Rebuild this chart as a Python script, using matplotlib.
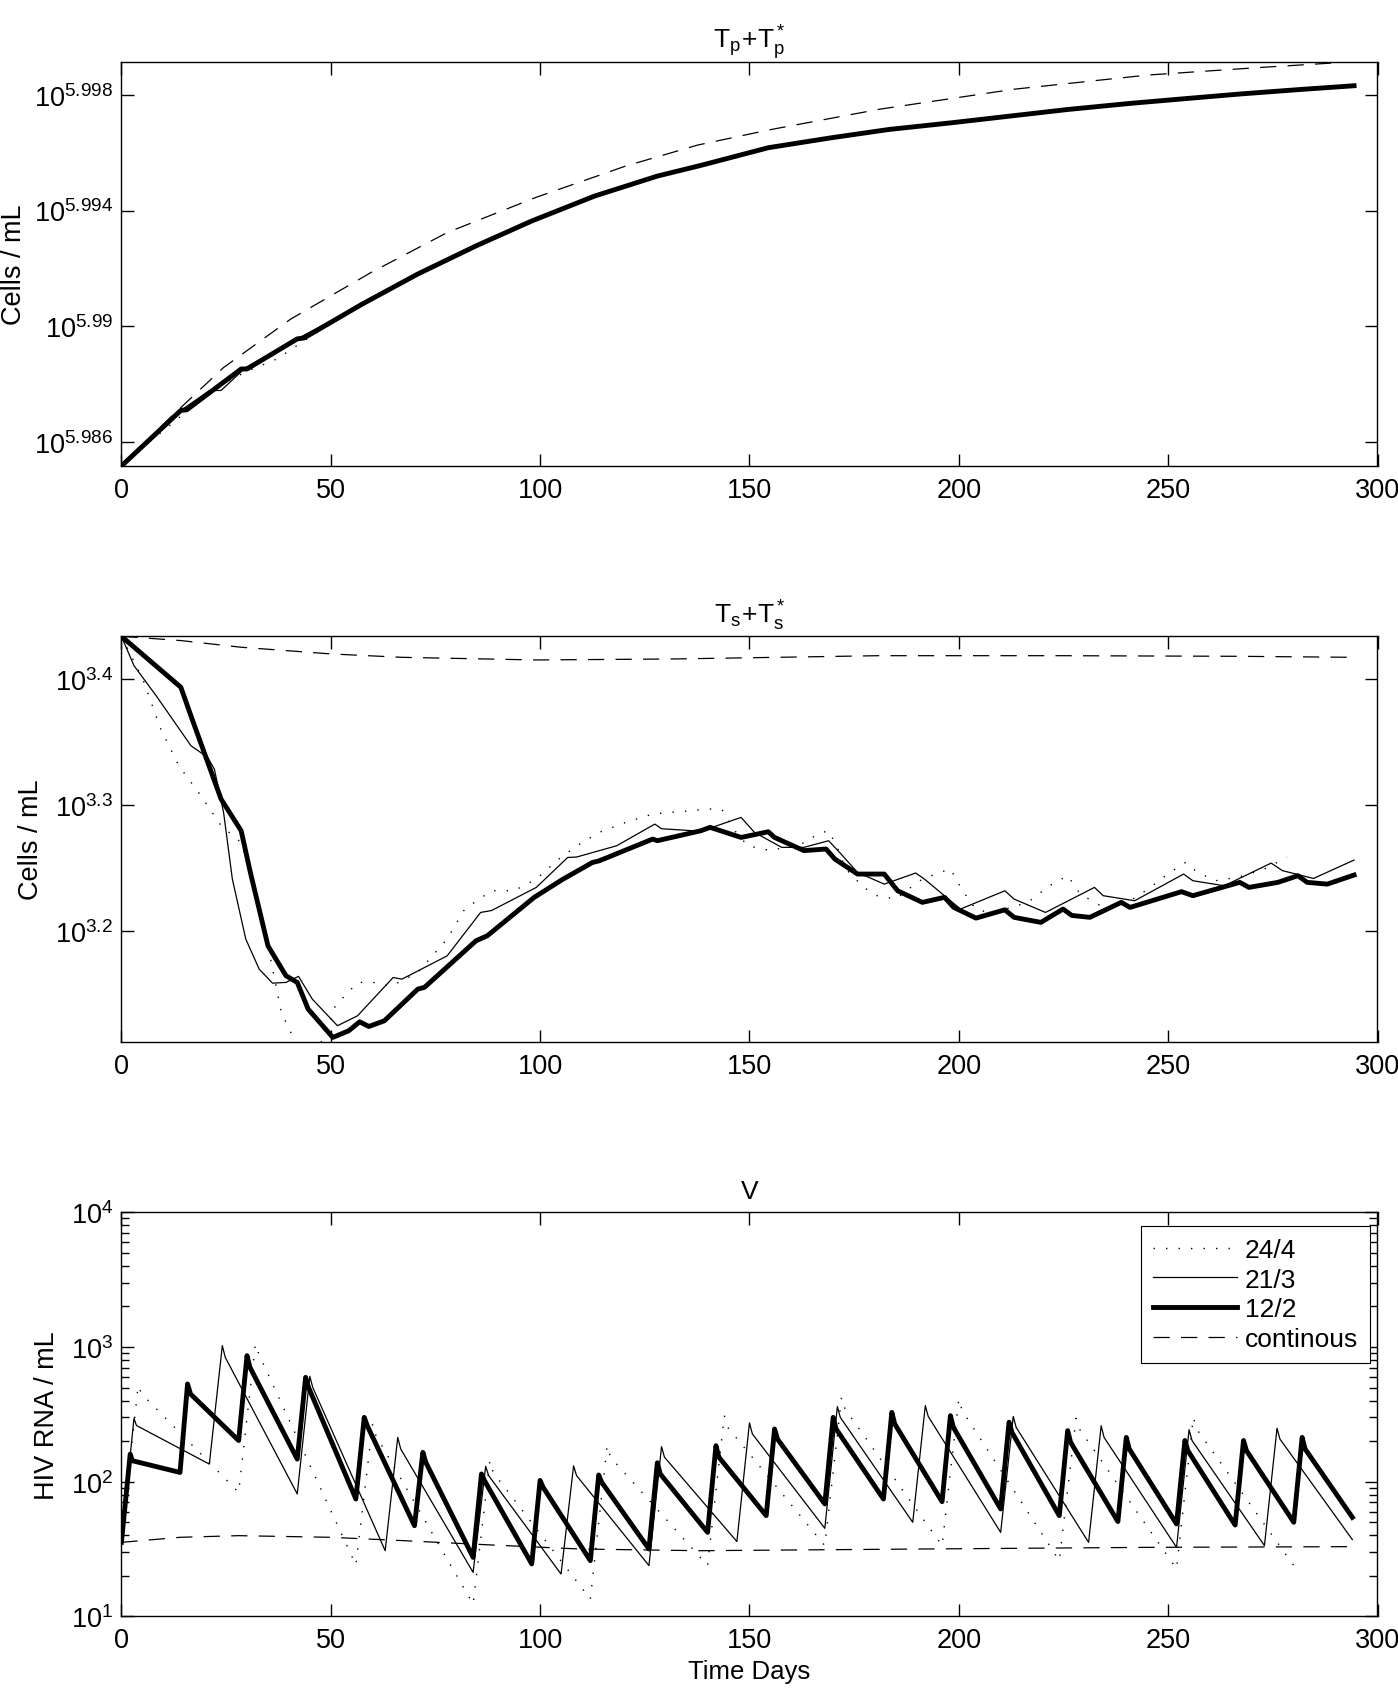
import matplotlib
matplotlib.use('Agg')
import numpy as np
import matplotlib.pyplot as plt
from matplotlib.ticker import FixedLocator, FixedFormatter, NullLocator, LogLocator, NullFormatter

plt.rcParams['font.family'] = ['Liberation Sans', 'DejaVu Sans']
plt.rcParams['mathtext.fontset'] = 'custom'
plt.rcParams['mathtext.rm'] = 'Liberation Sans'
plt.rcParams['mathtext.it'] = 'Liberation Sans:italic'
plt.rcParams['mathtext.bf'] = 'Liberation Sans:bold'

# ---- panel 1: Tp + Tp*  (log10 of cells/mL) ----
tp_days_122 = [0, 14.2, 15.6, 28.6, 30.0, 42.0, 43.6, 57.5, 70.8, 84.7, 98.0, 113.0, 128.0, 138.4,
               154.5, 169.4, 183.3, 198.2, 212.1, 226.0, 240.9, 253.7, 267.6, 281.5, 294.4]
tp_log_122 = [5.98518, 5.98710, 5.98712, 5.98853, 5.98853, 5.98957, 5.98960, 5.99077, 5.99181,
              5.99278, 5.99364, 5.99450, 5.99519, 5.99556, 5.99617, 5.99651, 5.99680, 5.99703,
              5.99726, 5.99749, 5.99770, 5.99786, 5.99803, 5.99818, 5.99831]
tp_days_213 = [0, 14.2, 21.0, 23.8, 29.7, 42.0, 57.5, 70.8, 84.7, 98.0, 113.0, 128.0, 138.4,
               154.5, 169.4, 183.3, 198.2, 212.1, 226.0, 240.9, 253.7, 267.6, 281.5, 294.4]
tp_log_213 = [5.98518, 5.98710, 5.98778, 5.98779, 5.98858, 5.98957, 5.99077, 5.99181, 5.99278,
              5.99364, 5.99450, 5.99519, 5.99556, 5.99617, 5.99651, 5.99680, 5.99703, 5.99726,
              5.99749, 5.99770, 5.99786, 5.99803, 5.99818, 5.99831]
tp_days_244 = [0, 6.2, 14.2, 24.0, 30.0, 37.2, 43.6, 57.5, 70.8, 84.7, 98.0, 113.0, 128.0, 138.4,
               154.5, 169.4, 183.3, 198.2, 212.1, 226.0, 240.9, 253.7, 267.6, 280.0]
tp_log_244 = [5.98518, 5.98595, 5.98690, 5.98800, 5.98845, 5.98888, 5.98950, 5.99077, 5.99181,
              5.99278, 5.99364, 5.99450, 5.99519, 5.99556, 5.99617, 5.99651, 5.99680, 5.99703,
              5.99726, 5.99749, 5.99770, 5.99786, 5.99803, 5.99816]
tp_days_cont = [0, 12.0, 24.4, 40.4, 59.6, 77.8, 99.1, 120.5, 137.6, 154.5, 181.1, 213.2, 245.2, 271.9, 294.4]
tp_log_cont = [5.98518, 5.98690, 5.98858, 5.99025, 5.99186, 5.99324, 5.99446, 5.99554, 5.99626, 5.99678,
               5.99750, 5.99819, 5.99868, 5.99894, 5.99914]

# ---- panel 2: Ts + Ts*  (log10 of cells/mL) ----
ts_days_122 = [0, 14.2, 16.9, 23.8, 28.6, 30.8, 35.0, 39.3, 42.0, 44.6, 50.5, 54.3, 56.9, 59.1, 62.8,
               70.8, 72.4, 84.7, 87.4, 98.6, 105.5, 112.5, 114.1, 126.9, 128.0, 138.4, 140.6, 148.0,
               154.5, 156.0, 163.0, 168.3, 170.4, 175.8, 182.2, 185.4, 191.3, 196.6, 198.8, 204.1,
               211.0, 213.2, 219.6, 224.9, 227.0, 231.3, 238.8, 240.9, 253.2, 255.9, 267.1, 269.3,
               276.2, 281.0, 283.2, 288.0, 294.4]
ts_log_122 = [3.4339, 3.3934, 3.3680, 3.3046, 3.2794, 3.2463, 3.1880, 3.1642, 3.1589, 3.1377, 3.1152,
              3.1205, 3.1276, 3.1239, 3.1284, 3.1536, 3.1550, 3.1920, 3.1960, 3.2265, 3.2410, 3.2542,
              3.2555, 3.2728, 3.2715, 3.2794, 3.2821, 3.2741, 3.2786, 3.2741, 3.2636, 3.2649, 3.2569,
              3.2450, 3.2450, 3.2317, 3.2225, 3.2265, 3.2185, 3.2100, 3.2166, 3.2106, 3.2066, 3.2172,
              3.2121, 3.2106, 3.2225, 3.2185, 3.2310, 3.2278, 3.2384, 3.2344, 3.2384, 3.2437, 3.2384,
              3.2370, 3.2442]
ts_days_213 = [0, 3.0, 8.3, 16.6, 20.6, 22.2, 24.4, 26.5, 29.7, 32.9, 36.1, 39.3, 42.3, 45.6, 51.6,
               56.4, 64.9, 67.0, 77.8, 85.8, 88.4, 99.1, 106.6, 108.7, 118.3, 127.4, 129.0, 138.4,
               148.0, 151.2, 157.7, 163.0, 168.9, 171.5, 175.8, 182.2, 189.7, 191.8, 200.4, 211.0,
               213.2, 220.7, 232.4, 234.5, 242.0, 253.7, 255.9, 263.4, 274.6, 277.3, 284.7, 294.4]
ts_log_213 = [3.4339, 3.4106, 3.3867, 3.3470, 3.3377, 3.3284, 3.2940, 3.2410, 3.1934, 3.1695, 3.1583,
              3.1589, 3.1637, 3.1456, 3.1245, 3.1324, 3.1628, 3.1615, 3.1800, 3.2145, 3.2160, 3.2344,
              3.2582, 3.2585, 3.2675, 3.2847, 3.2810, 3.2790, 3.2900, 3.2781, 3.2662, 3.2662, 3.2715,
              3.2623, 3.2463, 3.2370, 3.2458, 3.2410, 3.2172, 3.2317, 3.2251, 3.2145, 3.2344, 3.2278,
              3.2238, 3.2450, 3.2397, 3.2357, 3.2537, 3.2477, 3.2415, 3.2561]
ts_days_244 = [0, 5.1, 9.4, 13.7, 19.0, 23.8, 28.6, 31.3, 35.0, 38.2, 41.5, 45.0, 48.5, 51.1, 56.4,
               60.0, 64.5, 70.8, 77.8, 82.0, 88.4, 93.8, 99.1, 104.5, 108.8, 114.1, 120.5, 126.9,
               140.6, 143.5, 146.0, 149.6, 155.0, 163.5, 166.2, 168.9, 171.0, 173.0, 177.3, 180.5,
               185.0, 188.0, 191.3, 195.5, 198.0, 200.9, 204.0, 207.0, 213.0, 217.0, 221.7, 226.0,
               229.0, 234.5, 239.8, 245.2, 250.5, 254.2, 257.0, 261.3, 266.6, 273.0, 278.4]
ts_log_244 = [3.4339, 3.4000, 3.3602, 3.3311, 3.3072, 3.2834, 3.2701, 3.2410, 3.1880, 3.1350, 3.1118,
              3.1000, 3.1150, 3.1404, 3.1589, 3.1590, 3.1560, 3.1668, 3.1934, 3.2172, 3.2318, 3.2318,
              3.2411, 3.2570, 3.2675, 3.2781, 3.2861, 3.2927, 3.2967, 3.2960, 3.2813, 3.2675, 3.2636,
              3.2702, 3.2768, 3.2794, 3.2662, 3.2490, 3.2344, 3.2278, 3.2252, 3.2331, 3.2410, 3.2463,
              3.2490, 3.2318, 3.2172, 3.2146, 3.2186, 3.2238, 3.2358, 3.2437, 3.2291, 3.2186, 3.2212,
              3.2331, 3.2464, 3.2543, 3.2464, 3.2397, 3.2424, 3.2490, 3.2583]
ts_days_cont = [0, 14.2, 28.6, 50.0, 67.0, 99.0, 132.0, 181.0, 224.0, 267.0, 294.4]
ts_log_cont = [3.4339, 3.4305, 3.4252, 3.4199, 3.4172, 3.4151, 3.4159, 3.4185, 3.4185, 3.4180, 3.4172]

# ---- panel 3: V  (HIV RNA / mL) ----
v_days_122 = [0, 2.1, 2.6, 14, 15.8, 16.5, 28, 30, 30.7, 42, 44, 44.7, 56, 58, 58.7, 70, 72, 72.7,
              84, 86, 86.7, 98, 100, 100.7, 112, 114, 114.7, 126, 128, 128.7, 140, 142, 142.7,
              154, 156, 156.7, 168, 170, 170.7, 182, 184, 184.7, 196, 198, 198.7, 210, 212, 212.7,
              224, 226, 226.7, 238, 240, 240.7, 252, 254, 254.7, 266, 268, 268.7, 280, 282, 282.7, 294]
v_val_122 = [35.4, 160, 143, 117, 531, 448, 202, 862, 706, 147, 595, 501, 74.3, 300, 261, 47.1, 165, 139,
             27.4, 114, 102, 24.5, 102, 91, 25.9, 112, 99, 31.6, 138, 114, 42, 185, 152,
             55.9, 246, 207, 68.3, 300, 246, 74.3, 327, 268, 71, 309, 253, 62.7, 276, 232,
             55.9, 239, 196, 50.5, 213, 175, 48.5, 202, 170, 47.6, 202, 170, 49.9, 213, 175, 54.3]
v_days_213 = [0, 3, 3.6, 21, 24.1, 24.8, 42, 45, 45.7, 63, 66, 66.7, 84, 87, 87.7, 105, 108, 108.7,
              126, 129, 129.7, 147, 150, 150.7, 168, 171, 171.7, 189, 192, 192.7, 210, 213, 213.7,
              231, 234, 234.7, 252, 255, 255.7, 273, 276, 276.7, 294]
v_val_213 = [35.4, 295, 261, 135, 1023, 838, 81, 605, 501, 30.7, 213, 175, 21.2, 130, 111, 20.6, 131, 111,
             23.8, 182, 152, 35.9, 273, 226, 45, 361, 300, 49.9, 367, 305, 42, 305, 253,
             35.4, 260, 213, 32.5, 243, 202, 33.5, 249, 207, 37.1]
v_days_244 = [0, 4, 4.8, 28, 32, 32.8, 56, 60, 60.8, 84, 88, 88.8, 112, 116, 116.8, 140, 144, 144.8,
              168, 172, 172.8, 196, 200, 200.8, 224, 228, 228.8, 252, 256, 256.8, 280]
v_val_244 = [35.4, 516, 450, 83.3, 1053, 887, 24, 268, 220, 12.3, 143, 117, 13.4, 185, 152, 23.8, 309, 253,
             33.5, 423, 347, 33.5, 411, 337, 25.9, 295, 246, 22.5, 300, 246, 23.8]
v_days_cont = [0, 14, 28, 50, 67, 88, 109.5, 138, 191, 245, 294]
v_val_cont = [35.4, 38.6, 39.7, 38.6, 36.5, 33.9, 31.6, 30.7, 31.6, 32.5, 32.9]

labels = ['24/4', '21/3', '12/2', 'continous']
styles = {
    '24/4': dict(color='k', lw=1.0, ls=(0, (1, 8))),
    '21/3': dict(color='k', lw=0.9, ls='-'),
    '12/2': dict(color='k', lw=3.5, ls='-', solid_joinstyle='round'),
    'continous': dict(color='k', lw=0.9, ls=(0, (13, 9))),
}

W, H = 1398, 1690
fig = plt.figure(figsize=(W / 100, H / 100), dpi=100)


def add_axes(top_px, bottom_px):
    left, right = 121.4, 1377.5
    return fig.add_axes([left / W, 1 - bottom_px / H, (right - left) / W, (bottom_px - top_px) / H])


def style_axes(ax):
    ax.set_xlim(0, 300)
    ax.xaxis.set_major_locator(FixedLocator([0, 50, 100, 150, 200, 250, 300]))
    ax.tick_params(axis='both', which='major', direction='in', length=9, width=1.0,
                   top=True, right=True, labelsize=19.5)
    ax.tick_params(axis='x', which='major', pad=8)
    ax.tick_params(axis='y', which='major', pad=6)
    ax.tick_params(axis='both', which='minor', direction='in', length=5.5, width=1.0,
                   top=True, right=True)
    for s in ax.spines.values():
        s.set_linewidth(1.0)


# panel 1
ax1 = add_axes(62.7, 467.3)
ax1.plot(tp_days_244, 10 ** np.array(tp_log_244), **styles['24/4'])
ax1.plot(tp_days_213, 10 ** np.array(tp_log_213), **styles['21/3'])
ax1.plot(tp_days_122, 10 ** np.array(tp_log_122), **styles['12/2'])
ax1.plot(tp_days_cont, 10 ** np.array(tp_log_cont), **styles['continous'])
ax1.set_yscale('log')
ax1.set_ylim(10 ** 5.98517, 10 ** 5.99914)
tp_ticks = [5.986, 5.99, 5.994, 5.998]
ax1.yaxis.set_major_locator(FixedLocator([10 ** t for t in tp_ticks]))
ax1.yaxis.set_major_formatter(FixedFormatter([r'$10^{%g}$' % t for t in tp_ticks]))
ax1.yaxis.set_minor_locator(NullLocator())
style_axes(ax1)
ax1.set_title(r'$\mathregular{T_p\!+\!T_p^*}$', fontsize=19, pad=10)
ax1.set_ylabel('Cells / mL', fontsize=19.5, labelpad=5)

# panel 2
ax2 = add_axes(637.3, 1042.7)
ax2.plot(ts_days_244, 10 ** np.array(ts_log_244), **styles['24/4'])
ax2.plot(ts_days_213, 10 ** np.array(ts_log_213), **styles['21/3'])
ax2.plot(ts_days_122, 10 ** np.array(ts_log_122), **styles['12/2'])
ax2.plot(ts_days_cont, 10 ** np.array(ts_log_cont), **styles['continous'])
ax2.set_yscale('log')
ax2.set_ylim(10 ** 3.1118, 10 ** 3.4339)
ts_ticks = [3.2, 3.3, 3.4]
ax2.yaxis.set_major_locator(FixedLocator([10 ** t for t in ts_ticks]))
ax2.yaxis.set_major_formatter(FixedFormatter([r'$10^{%g}$' % t for t in ts_ticks]))
ax2.yaxis.set_minor_locator(NullLocator())
style_axes(ax2)
ax2.set_title(r'$\mathregular{T_s\!+\!T_s^*}$', fontsize=19, pad=10)
ax2.set_ylabel('Cells / mL', fontsize=19.5, labelpad=8)

# panel 3
ax3 = add_axes(1213.3, 1617.3)
lines = {}
lines['24/4'], = ax3.plot(v_days_244, v_val_244, **styles['24/4'])
lines['21/3'], = ax3.plot(v_days_213, v_val_213, **styles['21/3'])
lines['12/2'], = ax3.plot(v_days_122, v_val_122, **styles['12/2'])
lines['continous'], = ax3.plot(v_days_cont, v_val_cont, **styles['continous'])
ax3.set_yscale('log')
ax3.set_ylim(10, 1e4)
ax3.yaxis.set_major_locator(FixedLocator([1e1, 1e2, 1e3, 1e4]))
ax3.yaxis.set_major_formatter(FixedFormatter([r'$10^{1}$', r'$10^{2}$', r'$10^{3}$', r'$10^{4}$']))
ax3.yaxis.set_minor_locator(LogLocator(base=10, subs=np.arange(2, 10)))
ax3.yaxis.set_minor_formatter(NullFormatter())
style_axes(ax3)
ax3.set_title('V', fontsize=19, pad=10)
ax3.set_ylabel('HIV RNA / mL', fontsize=19.5, labelpad=8)
ax3.set_xlabel('Time Days', fontsize=18.5, labelpad=4)

leg = ax3.legend([lines[k] for k in labels], labels, loc='upper right',
                 bbox_to_anchor=(1 - 7.5 / 1256.1, 1 - 13.7 / 404), borderaxespad=0,
                 fontsize=19, handlelength=3.2, handletextpad=0.3, labelspacing=0.22,
                 borderpad=0.45, fancybox=False, framealpha=1, edgecolor='k')
leg.get_frame().set_linewidth(0.8)

fig.savefig('out.png', dpi=100)
